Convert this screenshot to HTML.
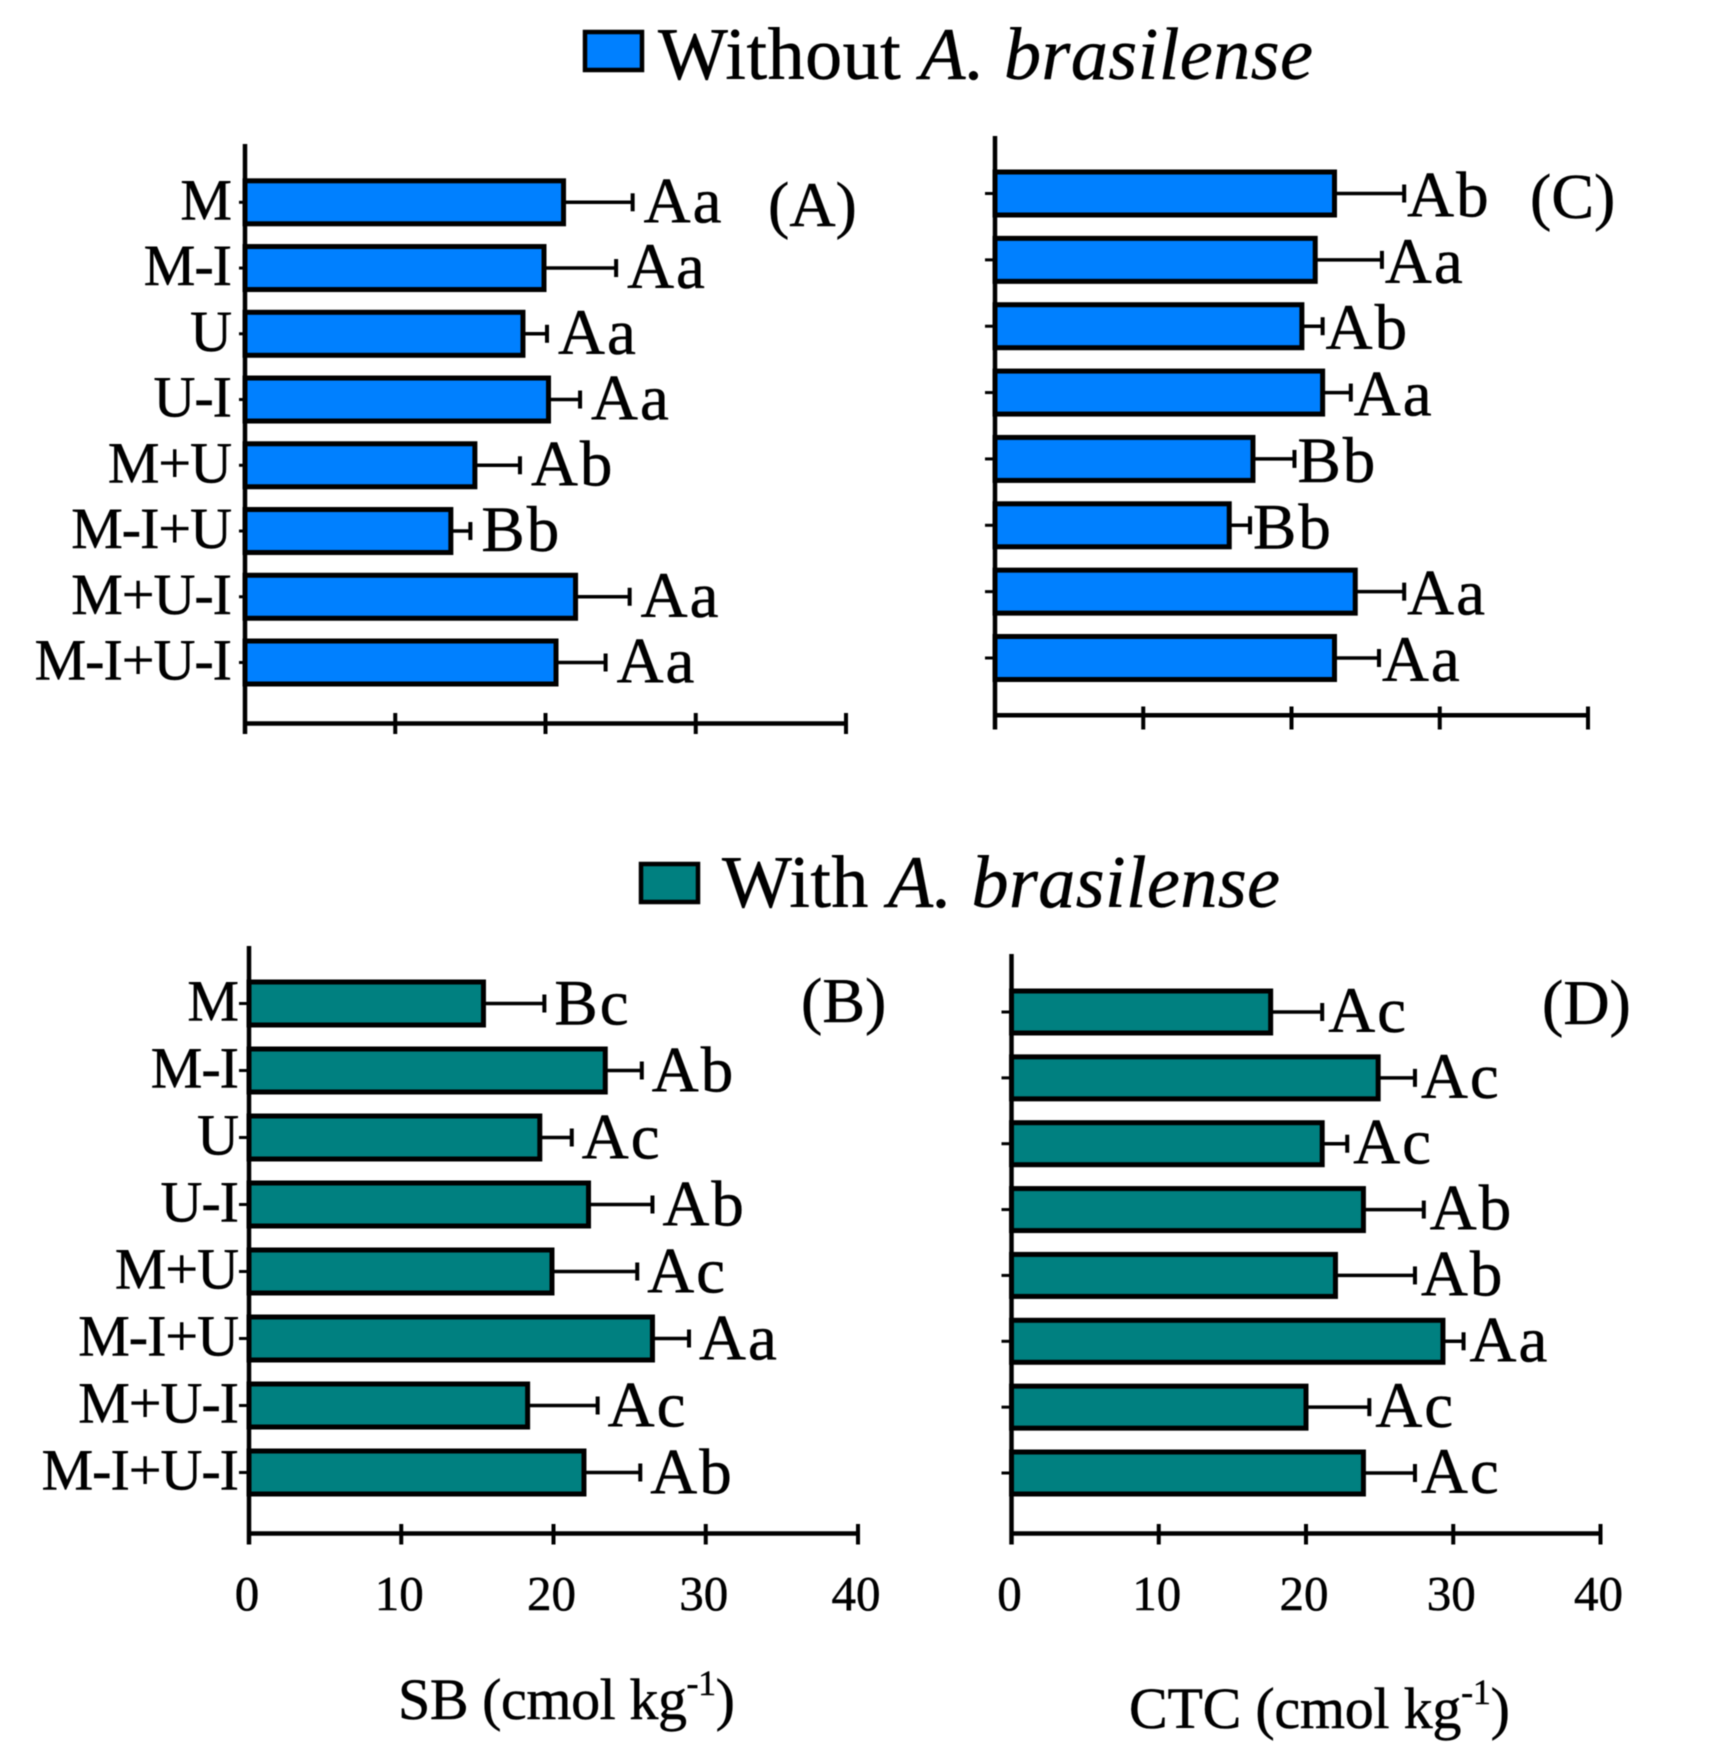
<!DOCTYPE html>
<html lang="en">
<head>
<meta charset="utf-8">
<title>SB and CTC with and without A. brasilense</title>
<style>
html,body{margin:0;padding:0;background:#fff;}
svg{display:block;filter:blur(0.6px);}
text{font-family:"Liberation Serif",serif;fill:#000;stroke:#000;stroke-width:0.5px;}
</style>
</head>
<body>
<svg id="figure" xmlns="http://www.w3.org/2000/svg" width="1724" height="1761" viewBox="0 0 1724 1761">
  <rect x="0" y="0" width="1724" height="1761" fill="#fff"/>

  <g>
    <rect x="585" y="32" width="57" height="38" fill="#0080ff" stroke="#000" stroke-width="4.5"/>
    <text x="658" y="79" font-size="74" textLength="655" lengthAdjust="spacing">Without <tspan font-style="italic">A. brasilense</tspan></text>
  </g>
  <g>
    <rect x="641" y="864" width="57" height="38" fill="#008080" stroke="#000" stroke-width="4.5"/>
    <text x="722" y="907" font-size="74" textLength="558" lengthAdjust="spacing">With <tspan font-style="italic">A. brasilense</tspan></text>
  </g>

  <text x="398" y="1719" font-size="58" textLength="337" lengthAdjust="spacing">SB (cmol kg<tspan font-size="36" dy="-24">-1</tspan><tspan dy="24">)</tspan></text>
  <text x="1129" y="1728" font-size="58" textLength="381" lengthAdjust="spacing">CTC (cmol kg<tspan font-size="36" dy="-24">-1</tspan><tspan dy="24">)</tspan></text>

  <g id="panel-a"></g>
  <g id="panel-b"></g>
  <g id="panel-c"></g>
  <g id="panel-d"></g>
</svg>

<script>
const categories = ['M', 'M-I', 'U', 'U-I', 'M+U', 'M-I+U', 'M+U-I', 'M-I+U-I'];
const xTickValues = [0, 10, 20, 30, 40];

const sbWithout = [21.2, 19.9, 18.5, 20.2, 15.3, 13.7, 22.0, 20.7];
const sbWithoutErr = [4.6, 4.8, 1.6, 2.1, 3.0, 1.3, 3.6, 3.3];
const sbWithoutLetters = ['Aa', 'Aa', 'Aa', 'Aa', 'Ab', 'Bb', 'Aa', 'Aa'];

const sbWith = [15.4, 23.4, 19.1, 22.3, 19.9, 26.5, 18.3, 22.0];
const sbWithErr = [4.0, 2.4, 2.1, 4.2, 5.6, 2.4, 4.6, 3.7];
const sbWithLetters = ['Bc', 'Ab', 'Ac', 'Ab', 'Ac', 'Aa', 'Ac', 'Ab'];

const ctcWithout = [22.9, 21.6, 20.7, 22.1, 17.4, 15.8, 24.3, 22.9];
const ctcWithoutErr = [4.7, 4.5, 1.4, 1.9, 2.8, 1.4, 3.3, 3.0];
const ctcWithoutLetters = ['Ab', 'Aa', 'Ab', 'Aa', 'Bb', 'Bb', 'Aa', 'Aa'];

const ctcWith = [17.6, 24.9, 21.1, 23.9, 22.0, 29.3, 20.0, 23.9];
const ctcWithErr = [3.5, 2.5, 1.7, 4.1, 5.4, 1.4, 4.3, 3.5];
const ctcWithLetters = ['Ac', 'Ac', 'Ac', 'Ab', 'Ab', 'Aa', 'Ac', 'Ac'];

const SVG_NS = 'http://www.w3.org/2000/svg';

function mk(parent, tag, props) {
  const el = document.createElementNS(SVG_NS, tag);
  for (const k in props) el.setAttribute(k, props[k]);
  parent.appendChild(el);
  return el;
}

function drawPanel(id, opt) {
  const root = document.getElementById(id);
  const xScale = v => opt.x0 + (v / 40) * (opt.x1 - opt.x0);
  const yScale = i => opt.yFirst + i * (opt.yLast - opt.yFirst) / (categories.length - 1);

  opt.values.forEach((v, i) => {
    const cy = yScale(i);
    const bar = mk(root, 'rect', {
      x: xScale(0), y: cy - opt.barH / 2 + 2.5, width: xScale(v) - xScale(0), height: opt.barH - 5,
      fill: opt.color, stroke: '#000', 'stroke-width': 5
    });
    
    

    const errX = xScale(v + opt.errs[i]);
    const errLine = mk(root, 'line', {
      x1: xScale(v), x2: errX, y1: cy, y2: cy, stroke: '#000', 'stroke-width': 3.5
    });
    
    

    const errCap = mk(root, 'line', {
      x1: errX, x2: errX, y1: cy - 9, y2: cy + 9, stroke: '#000', 'stroke-width': 4
    });
    
    

    const letter = mk(root, 'text', {
      x: errX + opt.letterGap, y: cy + opt.letterDy, 'font-size': 65, 'letter-spacing': 2
    });
    letter.textContent = opt.letters[i];
    
    

    const yTick = mk(root, 'line', {
      x1: xScale(0) - opt.yTickLen, x2: xScale(0), y1: cy, y2: cy, stroke: '#000', 'stroke-width': 3
    });
    
    

    if (opt.showCategories) {
      const cat = mk(root, 'text', {
        x: opt.catX, y: cy + 17, 'font-size': 58, 'text-anchor': 'end', 'letter-spacing': -1
      });
      cat.textContent = categories[i];
      
      
    }
  });

  const yAxis = mk(root, 'line', {
    x1: xScale(0), x2: xScale(0), y1: opt.axisTop, y2: opt.tickBottom, stroke: '#000', 'stroke-width': 4.5
  });
  
  

  const xAxis = mk(root, 'line', {
    x1: xScale(0), x2: xScale(40), y1: opt.axisY, y2: opt.axisY, stroke: '#000', 'stroke-width': 4.5
  });
  
  

  xTickValues.forEach(t => {
    const tick = mk(root, 'line', {
      x1: xScale(t), x2: xScale(t), y1: opt.tickTop, y2: opt.tickBottom, stroke: '#000', 'stroke-width': 4
    });
    
    

    if (opt.showTickLabels) {
      const lab = mk(root, 'text', {
        x: xScale(t) - 2, y: 1610, 'font-size': 49, 'text-anchor': 'middle'
      });
      lab.textContent = t;
      
      
    }
  });

  const tag = mk(root, 'text', { x: opt.tagX, y: opt.tagY, 'font-size': 64 });
  tag.textContent = opt.tag;
  
  
}

drawPanel('panel-a', {
  values: sbWithout, errs: sbWithoutErr, letters: sbWithoutLetters, color: '#0080ff',
  x0: 245, x1: 846, yFirst: 202.3, yLast: 662.5, barH: 48,
  axisTop: 144, axisY: 723.5, tickTop: 713, tickBottom: 734,
  yTickLen: 6, showCategories: true, catX: 231, showTickLabels: false,
  letterGap: 11, letterDy: 20, tag: '(A)', tagX: 768, tagY: 226
});

drawPanel('panel-b', {
  values: sbWith, errs: sbWithErr, letters: sbWithLetters, color: '#008080',
  x0: 249, x1: 858, yFirst: 1003.5, yLast: 1472.5, barH: 48,
  axisTop: 946, axisY: 1533.5, tickTop: 1524, tickBottom: 1544.5,
  yTickLen: 10, showCategories: true, catX: 238, showTickLabels: true,
  letterGap: 10, letterDy: 21, tag: '(B)', tagX: 801, tagY: 1022
});

drawPanel('panel-c', {
  values: ctcWithout, errs: ctcWithoutErr, letters: ctcWithoutLetters, color: '#0080ff',
  x0: 995, x1: 1588, yFirst: 193.5, yLast: 658, barH: 48,
  axisTop: 136, axisY: 715.3, tickTop: 706.5, tickBottom: 729.5,
  yTickLen: 10, showCategories: false, showTickLabels: false,
  letterGap: 3, letterDy: 23, tag: '(C)', tagX: 1530, tagY: 218
});

drawPanel('panel-d', {
  values: ctcWith, errs: ctcWithErr, letters: ctcWithLetters, color: '#008080',
  x0: 1011.5, x1: 1600.5, yFirst: 1012, yLast: 1473, barH: 47,
  axisTop: 954, axisY: 1533.5, tickTop: 1524, tickBottom: 1544.5,
  yTickLen: 10, showCategories: false, showTickLabels: true,
  letterGap: 6, letterDy: 20, tag: '(D)', tagX: 1542, tagY: 1024
});
</script>
</body>
</html>
